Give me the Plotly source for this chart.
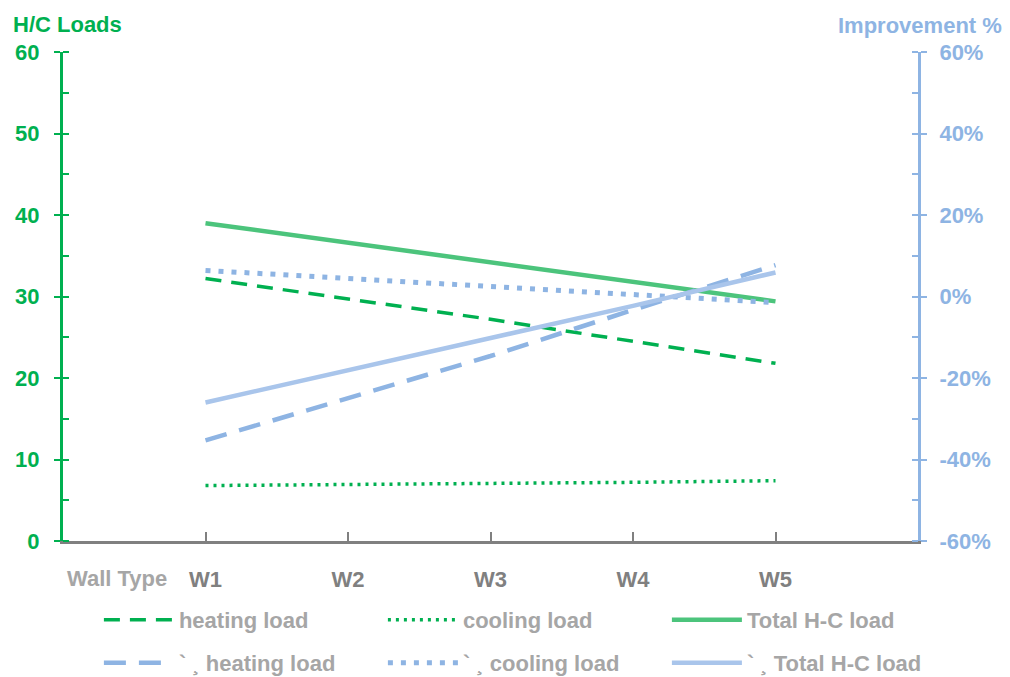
import plotly.graph_objects as go

wall_types = ["W1", "W2", "W3", "W4", "W5"]
x_pos = [1, 2, 3, 4, 5]

heating_load = [32.2, 29.7, 27.2, 24.5, 21.8]
cooling_load = [6.8, 6.9, 7.0, 7.2, 7.4]
total_load = [39.0, 36.6, 34.2, 31.8, 29.4]

heating_impr = [-0.353, -0.249, -0.146, -0.033, 0.077]
cooling_impr = [0.064, 0.045, 0.025, 0.005, -0.015]
total_impr = [-0.26, -0.181, -0.103, -0.023, 0.059]

left_ticks = [0, 10, 20, 30, 40, 50, 60]
right_ticks = [-0.6, -0.4, -0.2, 0, 0.2, 0.4, 0.6]
right_labels = ["-60%", "-40%", "-20%", "0%", "20%", "40%", "60%"]

GREEN = "#00B050"
GREEN_L = "#4CC47C"
BLUE = "#8EB4E3"
BLUE_L = "#A9C5EB"
GRAY = "#A6A6A6"
FONT = "Liberation Sans"
FS = 22

fig = go.Figure()

fig.add_trace(go.Scatter(x=x_pos, y=heating_load, mode="lines", name="heating load",
                         line=dict(color=GREEN, width=3.5, dash="16px,10px"), legend="legend"))
fig.add_trace(go.Scatter(x=x_pos, y=cooling_load, mode="lines", name="cooling load",
                         line=dict(color=GREEN, width=3.5, dash="3px,5px"), legend="legend"))
fig.add_trace(go.Scatter(x=x_pos, y=total_load, mode="lines", name="Total H-C load",
                         line=dict(color=GREEN_L, width=4.5), legend="legend"))

fig.add_trace(go.Scatter(x=x_pos, y=heating_impr, mode="lines", name="` ¸ heating load", yaxis="y2",
                         line=dict(color=BLUE, width=4.5, dash="22px,13px"), legend="legend2"))
fig.add_trace(go.Scatter(x=x_pos, y=cooling_impr, mode="lines", name="` ¸ cooling load", yaxis="y2",
                         line=dict(color=BLUE, width=5, dash="5px,8px"), legend="legend2"))
fig.add_trace(go.Scatter(x=x_pos, y=total_impr, mode="lines", name="` ¸ Total H-C load", yaxis="y2",
                         line=dict(color=BLUE_L, width=4.5), legend="legend2"))

legend_common = dict(orientation="h", xanchor="left", yanchor="middle",
                     xref="container", yref="container",
                     entrywidth=199, entrywidthmode="pixels", itemwidth=70,
                     font=dict(family=FONT, size=FS, color=GRAY, weight="bold"),
                     bgcolor="rgba(0,0,0,0)", itemclick=False)

fig.update_layout(
    width=1010, height=677,
    margin=dict(l=55, r=100, t=44, b=144, autoexpand=False),
    paper_bgcolor="white", plot_bgcolor="white",
    font=dict(family=FONT),
    showlegend=True,
    legend=dict(x=0.09, y=1 - 612 / 677, **legend_common),
    legend2=dict(x=0.09, y=1 - 655 / 677, **legend_common),
    xaxis=dict(range=[0, 6], tickvals=x_pos, ticktext=wall_types,
               showline=True, linecolor="#808080", linewidth=2.5,
               ticks="inside", ticklen=9, tickcolor="#808080", tickwidth=2,
               showgrid=False, zeroline=False, ticklabelstandoff=17,
               tickfont=dict(family=FONT, size=FS, color="#808080", weight="bold")),
    yaxis=dict(range=[0, 60], tickvals=left_ticks, showline=True, linecolor=GREEN, linewidth=3,
               ticks="outside", ticklen=6, tickcolor=GREEN, tickwidth=2,
               minor=dict(dtick=5, ticks="inside", ticklen=6, tickcolor=GREEN, tickwidth=2),
               showgrid=False, zeroline=False, ticklabelstandoff=10,
               tickfont=dict(family=FONT, size=FS, color=GREEN, weight="bold")),
    yaxis2=dict(range=[-0.6, 0.6], tickvals=right_ticks, ticktext=right_labels,
                overlaying="y", side="right",
                showline=True, linecolor=BLUE, linewidth=3,
                ticks="outside", ticklen=6, tickcolor=BLUE, tickwidth=2,
                minor=dict(dtick=0.1, ticks="inside", ticklen=6, tickcolor=BLUE, tickwidth=2),
                showgrid=False, zeroline=False, ticklabelstandoff=8,
                tickfont=dict(family=FONT, size=FS, color=BLUE, weight="bold")),
)

fig.add_annotation(text="H/C Loads", xref="paper", yref="paper", x=0, xshift=-52, y=1.0, yshift=28,
                   xanchor="left", yanchor="middle", showarrow=False,
                   font=dict(family=FONT, size=FS, color=GREEN, weight="bold"))
fig.add_annotation(text="Improvement %", xref="paper", yref="paper", x=1.0, xshift=86, y=1.0, yshift=27,
                   xanchor="right", yanchor="middle", showarrow=False,
                   font=dict(family=FONT, size=FS, color=BLUE, weight="bold"))
fig.add_annotation(text="Wall Type", xref="paper", yref="paper", x=0.0, xshift=2, y=0, yshift=-37,
                   xanchor="left", yanchor="middle", showarrow=False,
                   font=dict(family=FONT, size=FS, color=GRAY, weight="bold"))

fig.write_html("out.html")
